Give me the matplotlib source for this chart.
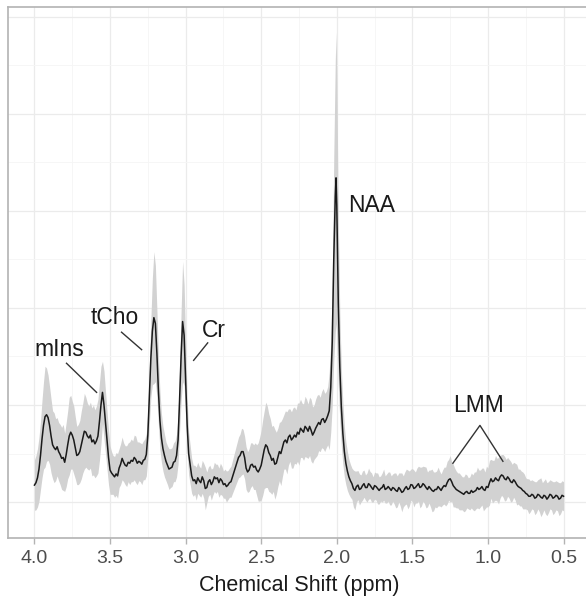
import numpy as np
import matplotlib.pyplot as plt

plt.rcParams['font.family'] = ['Liberation Sans', 'DejaVu Sans']

# chemical shift (ppm), mean spectrum and spread (a.u.)
ppm = [4.00, 3.99, 3.98, 3.97, 3.96, 3.95, 3.94, 3.93, 3.92, 3.91, 3.90, 3.89, 3.88, 3.87,
       3.86, 3.85, 3.84, 3.83, 3.82, 3.81, 3.80, 3.79, 3.78, 3.77, 3.76, 3.75, 3.74, 3.73,
       3.72, 3.71, 3.70, 3.69, 3.68, 3.67, 3.66, 3.65, 3.64, 3.63, 3.62, 3.61, 3.60, 3.59,
       3.58, 3.57, 3.56, 3.55, 3.54, 3.53, 3.52, 3.51, 3.50,
       3.49, 3.48, 3.47, 3.46, 3.45, 3.44, 3.43, 3.42, 3.41, 3.40, 3.39, 3.38, 3.37, 3.36,
       3.35, 3.34, 3.33, 3.32, 3.31, 3.30, 3.29, 3.28, 3.27, 3.26,
       3.25, 3.24, 3.23, 3.22, 3.21, 3.20, 3.19, 3.18, 3.17, 3.16,
       3.15, 3.14, 3.13, 3.12, 3.11, 3.10, 3.09, 3.08, 3.07, 3.06,
       3.05, 3.04, 3.03, 3.02, 3.01, 3.00, 2.99, 2.98,
       2.96, 2.95, 2.94, 2.93, 2.92, 2.91, 2.90, 2.89, 2.88, 2.87, 2.86, 2.85, 2.84, 2.83,
       2.82, 2.81, 2.80, 2.79, 2.78, 2.77, 2.76, 2.75, 2.74, 2.73, 2.72, 2.71, 2.70, 2.69,
       2.68, 2.67, 2.66, 2.65, 2.64, 2.63, 2.62, 2.61, 2.60, 2.59, 2.58, 2.57, 2.56, 2.55,
       2.54, 2.53, 2.52, 2.51, 2.50, 2.49, 2.48, 2.47, 2.46, 2.45, 2.44, 2.43, 2.42, 2.41,
       2.40, 2.39, 2.38, 2.37, 2.36, 2.35, 2.34, 2.33, 2.32, 2.31, 2.30, 2.29, 2.28, 2.27,
       2.26, 2.25, 2.24, 2.23, 2.22, 2.21, 2.20, 2.19, 2.18, 2.17, 2.16, 2.15, 2.14, 2.13,
       2.12, 2.11, 2.10, 2.09, 2.08, 2.07, 2.06,
       2.05, 2.04, 2.03, 2.02, 2.01, 2.005, 2.00, 1.995, 1.99, 1.98, 1.97, 1.96, 1.95, 1.94,
       1.93,
       1.92, 1.91, 1.90, 1.89, 1.88, 1.87, 1.86, 1.85, 1.84, 1.83, 1.82, 1.81, 1.80, 1.79,
       1.78, 1.77, 1.76, 1.75, 1.74, 1.73, 1.72, 1.71, 1.70, 1.69, 1.68, 1.67, 1.66, 1.65,
       1.64, 1.63, 1.62, 1.61, 1.60, 1.59, 1.58, 1.57, 1.56, 1.55, 1.54, 1.53, 1.52, 1.51,
       1.50, 1.49, 1.48, 1.47, 1.46, 1.45, 1.44, 1.43, 1.42, 1.41, 1.40, 1.39, 1.38, 1.37,
       1.36, 1.35, 1.34, 1.33, 1.32, 1.31, 1.30, 1.29, 1.28, 1.27, 1.26, 1.25, 1.24, 1.23,
       1.22, 1.21, 1.20, 1.19, 1.18, 1.17, 1.16, 1.15, 1.14, 1.13, 1.12, 1.11, 1.10, 1.09,
       1.08, 1.07, 1.06, 1.05, 1.04, 1.03, 1.02, 1.01, 1.00, 0.99, 0.98, 0.97, 0.96, 0.95,
       0.94, 0.93, 0.92, 0.91, 0.90, 0.89, 0.88, 0.87, 0.86, 0.85, 0.84, 0.83, 0.82, 0.81,
       0.80, 0.79, 0.78, 0.77, 0.76, 0.75, 0.74, 0.73, 0.72, 0.71, 0.70, 0.69, 0.68, 0.67,
       0.66, 0.65, 0.64, 0.63, 0.62, 0.61, 0.60, 0.59, 0.58, 0.57, 0.56, 0.55, 0.54, 0.53,
       0.52, 0.51, 0.50]

mean = [1.75, 2.0, 2.5, 3.4, 4.8, 6.5, 7.9, 8.8, 9.0, 8.7, 7.9, 6.8, 5.9, 5.6,
        5.4, 5.7, 5.2, 4.9, 4.5, 4.6, 4.1, 4.9, 5.9, 6.8, 7.2, 6.9, 6.4, 5.6,
        4.8, 4.9, 5.2, 5.9, 6.6, 7.3, 7.2, 6.8, 6.6, 6.9, 6.2, 6.4, 6.0, 6.3,
        6.8, 8.3, 10.0, 11.3, 10.0, 8.2, 6.4, 4.6, 3.3,
        3.0, 2.8, 2.6, 2.9, 2.7, 3.5, 3.9, 4.5, 4.1, 3.8, 3.7, 4.1, 4.0, 4.3,
        4.2, 4.6, 4.4, 4.0, 4.2, 4.1, 3.9, 4.3, 4.4, 4.9,
        6.9, 11.0, 14.8, 17.6, 19.0, 18.4, 15.3, 11.5, 8.4, 6.6,
        5.5, 4.8, 4.2, 3.8, 3.4, 3.5, 3.6, 4.1, 4.2, 4.8,
        6.4, 10.5, 15.0, 18.6, 17.2, 12.5, 8.0, 5.0,
        2.7, 2.2, 2.3, 1.9, 2.5, 2.2, 2.0, 2.6, 2.2, 1.4, 1.5, 2.1, 2.3, 1.8,
        2.1, 2.6, 2.4, 2.5, 2.0, 2.4, 2.2, 1.8, 1.9, 1.6, 1.75, 2.0, 2.1, 2.6,
        3.1, 3.6, 4.1, 4.6, 4.8, 5.2, 5.2, 4.6, 3.5, 3.1, 3.3, 3.8, 3.9, 3.6,
        3.7, 3.3, 3.1, 3.4, 3.8, 4.6, 5.4, 5.9, 5.7, 5.1, 4.8, 4.3, 4.5, 3.9,
        4.0, 4.6, 5.2, 5.0, 5.6, 6.2, 6.4, 6.1, 6.7, 6.9, 6.4, 6.6, 6.9, 6.7,
        7.2, 7.0, 7.6, 7.4, 7.2, 7.8, 7.6, 7.3, 7.8, 7.4, 6.9, 7.2, 7.6, 7.9,
        8.2, 8.0, 8.5, 8.6, 8.2, 8.5, 8.9,
        9.4, 11.8, 16.5, 25.0, 31.5, 33.4, 30.5, 25.5, 20.5, 13.9, 9.8, 7.1, 5.2, 4.0,
        3.2,
        2.6, 2.2, 1.9, 1.4, 1.2, 1.6, 1.75, 1.3, 1.4, 1.7, 1.9, 1.5, 1.5, 1.9,
        1.75, 1.5, 1.3, 1.7, 1.6, 1.4, 1.2, 1.4, 1.5, 1.8, 1.3, 1.4, 1.6, 1.4,
        1.2, 1.5, 1.4, 1.2, 1.1, 1.5, 1.3, 1.0, 1.1, 1.4, 1.6, 1.3, 1.4, 1.8,
        1.75, 1.4, 1.5, 1.7, 1.9, 1.5, 1.6, 1.9, 1.75, 1.5, 1.3, 1.6, 1.4, 1.2,
        1.1, 1.3, 1.3, 1.6, 1.4, 1.2, 1.5, 1.7, 1.6, 2.0, 2.3, 2.4, 2.1, 1.7,
        1.5, 1.3, 1.2, 1.1, 1.0, 0.9, 0.8, 1.0, 1.1, 0.9, 0.9, 1.2, 1.0, 1.1,
        1.2, 1.5, 1.3, 1.4, 1.6, 1.3, 1.2, 1.6, 1.5, 2.0, 2.4, 2.1, 2.2, 2.5,
        2.3, 2.2, 2.6, 2.8, 2.7, 2.4, 2.3, 2.6, 2.4, 2.1, 2.0, 2.3, 2.1, 1.8,
        1.6, 1.5, 1.4, 1.2, 1.1, 0.9, 0.8, 0.6, 0.6, 0.8, 0.7, 0.4, 0.5, 0.8,
        0.7, 0.5, 0.4, 0.7, 0.6, 0.3, 0.5, 0.8, 0.7, 0.4, 0.5, 0.7, 0.6, 0.3,
        0.4, 0.7, 0.6]

sd = [2.6, 2.8, 3.0, 3.3, 3.5, 4.0, 4.5, 5.2, 4.8, 4.4, 4.0, 3.8, 3.5, 3.6,
      3.2, 3.0, 3.0, 3.1, 3.2, 3.4, 3.0, 3.3, 3.5, 4.0, 3.8, 3.5, 3.5, 3.2,
      3.0, 3.1, 3.2, 3.5, 3.6, 3.9, 3.6, 3.4, 3.3, 3.4, 3.5, 3.6, 3.5, 3.6,
      3.8, 4.0, 4.0, 3.2, 3.5, 3.2, 3.0, 2.8, 2.5,
      2.2, 2.0, 2.1, 2.2, 2.3, 2.0, 2.1, 2.2, 2.0, 2.0, 2.1, 2.0, 2.2, 2.2,
      2.1, 2.3, 2.4, 2.2, 2.0, 2.0, 2.1, 2.0, 2.1, 2.2,
      2.4, 3.0, 4.0, 5.5, 6.8, 6.0, 4.5, 3.5, 3.0, 2.5,
      2.3, 2.2, 2.0, 2.0, 2.1, 2.0, 2.0, 2.0, 2.1, 2.2,
      2.5, 3.2, 4.6, 6.2, 5.2, 3.8, 2.8, 2.2,
      1.8, 1.6, 1.5, 1.7, 1.6, 1.5, 1.5, 1.7, 1.8, 2.2, 1.6, 1.5, 1.5, 1.6,
      1.4, 1.5, 1.5, 1.4, 1.5, 1.6, 1.5, 1.4, 1.5, 1.6, 1.5, 1.5, 1.6, 1.7,
      1.8, 1.9, 2.0, 2.1, 2.2, 2.4, 2.3, 2.2, 2.2, 2.1, 2.2, 2.3, 2.2, 2.3,
      2.4, 2.6, 3.0, 3.3, 3.6, 3.9, 4.0, 4.4, 4.2, 4.0, 3.8, 3.5, 3.4, 3.6,
      3.2, 3.0, 3.0, 3.3, 3.0, 2.8, 3.0, 3.2, 2.9, 2.7, 2.9, 3.1, 2.9, 2.8,
      3.0, 3.2, 3.0, 2.8, 2.9, 3.1, 3.0, 2.8, 3.0, 3.2, 2.9, 2.8, 3.0, 3.1,
      2.9, 2.8, 2.9, 3.1, 3.0, 2.9, 3.0,
      4.0, 4.6, 6.5, 10.5, 14.0, 15.0, 13.5, 11.0, 8.5, 5.5, 4.0, 3.2, 2.6, 2.2,
      2.0,
      1.8, 1.7, 1.6, 1.9, 2.0, 1.6, 1.5, 1.6, 1.4, 1.5, 1.4, 1.3, 1.5, 1.6,
      1.4, 1.5, 1.3, 1.4, 1.4, 1.6, 1.4, 1.3, 1.5, 1.6, 1.4, 1.5, 1.5, 1.7,
      1.5, 1.4, 1.6, 1.8, 1.6, 1.5, 1.7, 2.0, 1.6, 1.7, 1.8, 2.0, 1.8, 1.6,
      1.7, 1.9, 1.6, 1.8, 1.8, 2.1, 2.0, 1.8, 1.9, 2.1, 1.8, 1.7, 1.9, 2.2,
      2.0, 1.8, 1.9, 2.0, 1.8, 1.7, 1.8, 1.9, 2.0, 2.2, 2.1, 2.4, 2.0, 2.2,
      2.0, 1.9, 1.8, 1.9, 1.8, 1.7, 1.8, 1.9, 1.7, 1.6, 1.7, 1.8, 1.8, 2.0,
      1.9, 2.1, 2.0, 1.9, 1.9, 2.2, 1.9, 2.1, 2.0, 2.3, 2.0, 2.2, 2.1, 2.3,
      2.2, 2.4, 2.2, 2.1, 2.2, 2.3, 2.1, 2.0, 2.0, 2.1, 1.9, 1.8, 1.9, 2.1,
      1.8, 1.9, 1.8, 1.9, 1.8, 1.6, 1.6, 1.8, 1.6, 1.5, 1.5, 1.7, 1.6, 1.5,
      1.7, 2.0, 1.6, 1.5, 1.8, 1.7, 1.6, 1.5, 1.5, 1.7, 1.6, 1.5, 1.5, 1.7,
      1.6, 1.5, 1.5]

ppm = np.array(ppm)
mean = np.array(mean)
sd = np.array(sd)
assert len(ppm) == len(mean) == len(sd), (len(ppm), len(mean), len(sd))

x_ticks = [4.0, 3.5, 3.0, 2.5, 2.0, 1.5, 1.0, 0.5]

fig = plt.figure(figsize=(5.86, 6.01), dpi=100)
ax = fig.add_axes([8 / 586, 63 / 601, 582 / 586, 531 / 601])

ax.fill_between(ppm, mean - sd, mean + sd, color='#d2d2d2', lw=0, zorder=2)
ax.plot(ppm, mean, color='#1a1a1a', lw=1.1, zorder=3)

ax.set_xlim(4.175, 0.325)
ax.set_ylim(-3.7, 51.0)

ax.set_xticks(x_ticks)
ax.set_xticklabels([f'{t:.1f}' for t in x_ticks])
ax.set_xticks([3.75, 3.25, 2.75, 2.25, 1.75, 1.25, 0.75], minor=True)
ax.set_yticks([0, 10, 20, 30, 40, 50])
ax.set_yticks([5, 15, 25, 35, 45], minor=True)
ax.set_yticklabels([])
ax.tick_params(axis='y', which='both', length=0)
ax.tick_params(axis='x', which='minor', length=0)
ax.tick_params(axis='x', which='major', length=4.3, width=1.0, color='#b3b3b3',
               labelsize=14, labelcolor='#4d4d4d', pad=4)

ax.set_axisbelow(True)
ax.grid(which='major', color='#ebebeb', lw=0.9)
ax.grid(which='minor', color='#f5f5f5', lw=0.6)
for s in ax.spines.values():
    s.set_color('#b3b3b3')
    s.set_linewidth(1.2)
ax.spines['right'].set_visible(False)

ax.set_xlabel('Chemical Shift (ppm)', fontsize=15.5, color='#1a1a1a', labelpad=6)

# peak labels and leader lines
lab = dict(fontsize=16.5, color='#1a1a1a', ha='center', va='center')
lead = dict(color='#333333', lw=1.0)
ax.text(3.834, 15.7, 'mIns', **lab)
ax.plot([3.788, 3.589], [14.3, 11.3], **lead)
ax.text(3.47, 19.0, 'tCho', **lab)
ax.plot([3.424, 3.291], [17.5, 15.7], **lead)
ax.text(2.815, 17.7, 'Cr', **lab)
ax.plot([2.854, 2.947], [16.4, 14.6], **lead)
ax.text(1.768, 30.6, 'NAA', **lab)
ax.text(1.06, 10.0, 'LMM', **lab)
ax.plot([1.232, 1.053, 0.901], [4.0, 7.9, 4.2], **lead)

fig.savefig('out.png', dpi=100)
